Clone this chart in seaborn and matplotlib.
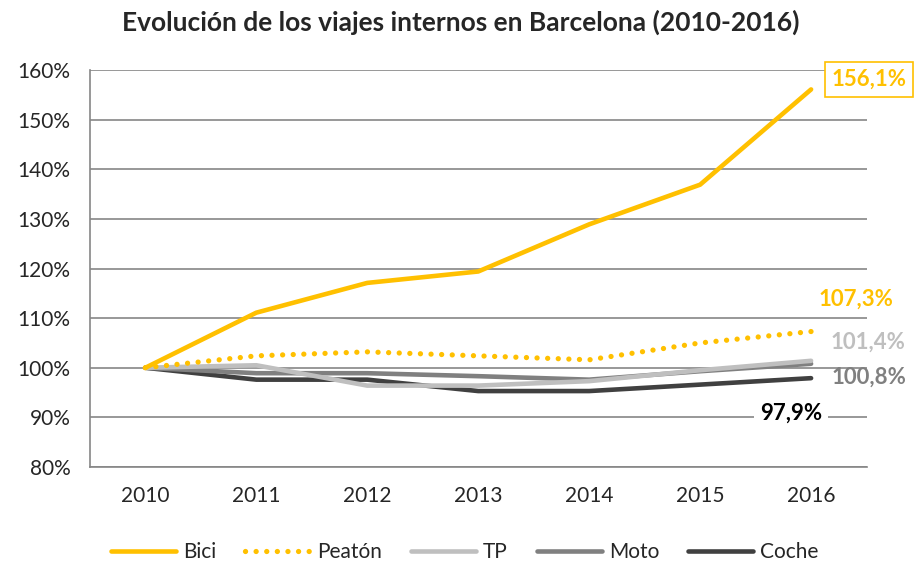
import pandas as pd
import matplotlib.pyplot as plt
import seaborn as sns

# -------- DATA --------
years = ['2010', '2011', '2012', '2013', '2014', '2015', '2016']
bici = [100.0, 111.1, 117.1, 119.4, 128.9, 136.9, 156.1]
peaton = [100.0, 102.4, 103.2, 102.4, 101.6, 105.0, 107.3]
tp = [100.0, 100.5, 96.4, 96.4, 97.3, 99.5, 101.4]
moto = [100.0, 98.9, 98.9, 98.3, 97.6, 99.3, 100.8]
coche = [100.0, 97.6, 97.6, 95.3, 95.3, 96.6, 97.9]

series = ['Bici', 'Peatón', 'TP', 'Moto', 'Coche']
colors = {'Bici': '#FFC000', 'Peatón': '#FFC000', 'TP': '#BFBFBF',
          'Moto': '#808080', 'Coche': '#404040'}

df = pd.DataFrame({
    'pos': list(range(len(years))) * 5,
    'valor': bici + peaton + tp + moto + coche,
    'modo': [s for s in series for _ in years],
})

# -------- PLOT --------
sns.set_style('white')
plt.rcParams['font.family'] = ['Lato', 'DejaVu Sans']

fig = plt.figure(figsize=(9.17, 5.65), dpi=100)
ax = fig.add_axes([0.098, 0.1735, 0.847, 0.7025])

for modo in ['Coche', 'Moto', 'TP', 'Peatón', 'Bici']:
    sub = df[df['modo'] == modo]
    sns.lineplot(data=sub, x='pos', y='valor', ax=ax, color=colors[modo],
                 linewidth=3.3, label=modo, solid_capstyle='round')

# dotted style for Peatón
for line in ax.get_lines():
    if line.get_label() == 'Peatón':
        line.set_linestyle((0, (0.01, 2.0)))
        line.set_dash_capstyle('round')
        line.set_linewidth(3.8)

ax.set_xlim(-0.5, 6.5)
ax.set_ylim(80, 160)
ax.set_xticks(range(len(years)))
ax.set_xticklabels(years)
ax.set_xticks([i - 0.5 for i in range(len(years) + 1)], minor=True)
ax.set_yticks(range(80, 161, 10))
ax.set_yticklabels([f'{v}%' for v in range(80, 161, 10)])
ax.set_xlabel('')
ax.set_ylabel('')

ax.grid(axis='y', color='#868686', linewidth=1.2)
ax.set_axisbelow(True)
for side in ['top', 'right']:
    ax.spines[side].set_visible(False)
for side in ['left', 'bottom']:
    ax.spines[side].set_color('#868686')
    ax.spines[side].set_linewidth(1.2)

ax.tick_params(axis='x', which='major', length=0, pad=14, labelsize=15)
ax.tick_params(axis='x', which='minor', length=6, color='#868686', width=1.2)
ax.tick_params(axis='y', length=6, color='#868686', width=1.2, pad=8, labelsize=15)

fig.text(0.502, 0.961, 'Evolución de los viajes internos en Barcelona (2010-2016)',
         ha='center', va='center', fontsize=19, fontweight='bold')

# -------- LABELS --------
def pct(v):
    return f'{v:.1f}%'.replace('.', ',')

last = len(years) - 1
lab = dict(textcoords='offset pixels', ha='center', va='center',
           fontsize=16, fontweight='bold', annotation_clip=False)
ax.annotate(pct(bici[-1]), (last, bici[-1]), xytext=(58, 10), color='#FFC000',
            bbox=dict(boxstyle='square,pad=0.3', fc='white', ec='#FFC000', lw=1.2),
            **lab)
ax.annotate(pct(peaton[-1]), (last, peaton[-1]), xytext=(45, 32),
            color='#FFC000', **lab)
ax.annotate(pct(tp[-1]), (last, tp[-1]), xytext=(57, 19), color='#BFBFBF', **lab)
ax.annotate(pct(moto[-1]), (last, moto[-1]), xytext=(58, -13), color='#808080', **lab)
ax.annotate(pct(coche[-1]), (last, coche[-1]), xytext=(-20, -35), color='black',
            bbox=dict(boxstyle='square,pad=0.25', fc='white', ec='none'), **lab)

# -------- LEGEND --------
ax.get_legend().remove()
handles = {l.get_label(): l for l in ax.get_lines()}
fig.legend([handles[s] for s in series], series, loc='center',
           bbox_to_anchor=(0.507, 1 - 552 / 565), ncol=5, frameon=False,
           fontsize=15, handlelength=3.1, handletextpad=0.35, columnspacing=1.4)

fig.savefig('out.png', dpi=100)
